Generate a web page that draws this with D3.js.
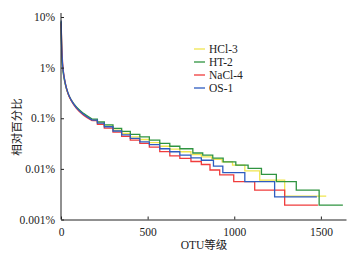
<!DOCTYPE html>
<html>
<head>
<meta charset="utf-8">
<script src="https://cdn.jsdelivr.net/npm/d3@7"></script>
<style>
  html, body { margin: 0; padding: 0; background: #fff; }
  text { font-family: "Times New Roman", "Liberation Serif", "Noto Sans CJK SC", serif; fill: #222; }
</style>
</head>
<body>
<script>
// 样本名称与颜色
const sample_names = ['HCl-3', 'HT-2', 'NaCl-4', 'OS-1'];
const sample_colors = ['#f0e54f', '#2f9440', '#f03c3c', '#2d5cc0'];

// 坐标轴刻度
const x_ticks = [0, 500, 1000, 1500];
const y_ticks = [10, 1, 0.1, 0.01, 0.001];
const y_tick_labels = ['10%', '1%', '0.1%', '0.01%', '0.001%'];

// 头部（平滑部分）：OTU 等级 与 相对丰度(%)
const head_ranks = [1, 2, 4, 7, 10, 15, 25, 40, 60, 90, 130, 180];
const head_hcl3 = [8.3, 4.8, 2.5, 1.4, 1.0, 0.73, 0.48, 0.315, 0.225, 0.163, 0.122, 0.093];
const head_ht2 = [8.0, 4.5, 2.3, 1.3, 0.95, 0.70, 0.46, 0.31, 0.225, 0.165, 0.125, 0.096];
const head_nacl4 = [7.5, 5.5, 3.0, 1.7, 1.15, 0.78, 0.49, 0.31, 0.22, 0.155, 0.115, 0.09];
const head_os1 = [8.5, 5.0, 2.6, 1.5, 1.05, 0.76, 0.49, 0.32, 0.225, 0.16, 0.12, 0.092];

// 尾部（阶梯部分）：[起始等级, 相对丰度(%)]
const tail_hcl3 = [[180, 0.093], [210, 0.082], [250, 0.070], [300, 0.058], [350, 0.050], [400, 0.043],
    [455, 0.038], [510, 0.033], [570, 0.028], [628, 0.0246], [686, 0.0218], [750, 0.0192], [810, 0.0172],
    [870, 0.0155], [930, 0.0138], [990, 0.0119], [1061, 0.0091], [1147, 0.0060], [1291, 0.0029], [1531, 0.0029]];
const tail_ht2 = [[180, 0.096], [210, 0.085], [250, 0.074], [300, 0.063], [350, 0.055], [400, 0.048],
    [455, 0.043], [510, 0.037], [570, 0.032], [628, 0.028], [686, 0.025], [761, 0.0206], [818, 0.0187],
    [876, 0.0163], [936, 0.0138], [1009, 0.0119], [1080, 0.0102], [1157, 0.0078], [1243, 0.0056],
    [1358, 0.0038], [1490, 0.00193], [1627, 0.00193]];
const tail_nacl4 = [[180, 0.09], [210, 0.076], [250, 0.064], [300, 0.053], [350, 0.044], [400, 0.037],
    [455, 0.0319], [510, 0.027], [570, 0.022], [628, 0.018], [686, 0.0161], [750, 0.014], [810, 0.0122],
    [860, 0.0095], [916, 0.0076], [997, 0.0056], [1118, 0.0038], [1291, 0.00193], [1483, 0.00193]];
const tail_os1 = [[180, 0.092], [210, 0.080], [250, 0.068], [300, 0.056], [350, 0.047], [400, 0.040],
    [455, 0.0343], [510, 0.030], [570, 0.025], [628, 0.0218], [686, 0.0187], [750, 0.0165], [810, 0.0148],
    [880, 0.0113], [934, 0.0084], [1061, 0.0056], [1233, 0.0028], [1477, 0.0028]];

const heads = [head_hcl3, head_ht2, head_nacl4, head_os1];
const tails = [tail_hcl3, tail_ht2, tail_nacl4, tail_os1];
// 绘制顺序（蓝色在最上层）
const draw_order = [0, 1, 2, 3];

// 画布大小
const width = 357;
const height = 256;

const x = d3.scaleLinear().domain([0, 1645]).range([61, 346]);
const y = d3.scaleLog().domain([0.001, 10]).range([219.5, 17]);

const svg = d3.select('body')
    .append('svg')
    .attr('width', width)
    .attr('height', height);

// 绘制曲线
function draw_curves() {
    const head_line = d3.line()
        .x(d => x(d[0]))
        .y(d => y(d[1]))
        .curve(d3.curveMonotoneX);
    const tail_line = d3.line()
        .x(d => x(d[0]))
        .y(d => y(d[1]))
        .curve(d3.curveStepAfter);
    const g = svg.append('g').attr('id', 'curves_g');
    for (const i of draw_order) {
        const head_pts = head_ranks.map((r, j) => [r, heads[i][j]]);
        g.append('path')
            .attr('fill', 'none')
            .attr('stroke', sample_colors[i])
            .attr('stroke-width', 1.3)
            .attr('d', head_line(head_pts));
        g.append('path')
            .attr('fill', 'none')
            .attr('stroke', sample_colors[i])
            .attr('stroke-width', 1.3)
            .attr('d', tail_line(tails[i]));
    }
}

// 绘制坐标轴
function draw_axes() {
    const x_axis = d3.axisBottom(x)
        .tickValues(x_ticks)
        .tickFormat(d3.format('d'))
        .tickSizeInner(-3)
        .tickSizeOuter(0)
        .tickPadding(8);
    const y_axis = d3.axisLeft(y)
        .tickValues(y_ticks)
        .tickFormat((d, i) => y_tick_labels[i])
        .tickSizeInner(-3)
        .tickSizeOuter(0)
        .tickPadding(6);
    const gx = svg.append('g')
        .attr('transform', `translate(0,${y(0.001)})`)
        .call(x_axis);
    const gy = svg.append('g')
        .attr('transform', `translate(${x(0)},0)`)
        .call(y_axis);
    for (const g of [gx, gy]) {
        g.select('.domain').attr('stroke', '#222').attr('stroke-width', 1);
        g.selectAll('.tick line').attr('stroke', '#222');
        g.selectAll('.tick text')
            .style('font-family', '"Times New Roman", "Liberation Serif", serif')
            .style('font-size', '11.5px')
            .attr('fill', '#222');
    }
    gy.select('.domain').attr('d', `M0,${y(0.001)}V13`);

    svg.append('text')
        .attr('x', 204)
        .attr('y', 249)
        .attr('text-anchor', 'middle')
        .style('font-size', '11.5px')
        .text('OTU等级');
    svg.append('text')
        .attr('transform', 'translate(21,127) rotate(-90)')
        .attr('text-anchor', 'middle')
        .style('font-size', '11.5px')
        .text('相对百分比');
}

// 绘制图例
function draw_legend() {
    const g = svg.append('g').attr('id', 'legend_g');
    const rows = g.selectAll('g')
        .data(sample_names).enter()
        .append('g')
        .attr('transform', (d, i) => `translate(194,${49 + i * 13})`);
    rows.append('line')
        .attr('x1', 0).attr('x2', 11)
        .attr('stroke', (d, i) => sample_colors[i])
        .attr('stroke-width', 1.3);
    rows.append('text')
        .attr('x', 15)
        .attr('dy', '0.35em')
        .style('font-size', '11.5px')
        .text(d => d);
}

draw_curves();
draw_axes();
draw_legend();
</script>
</body>
</html>
